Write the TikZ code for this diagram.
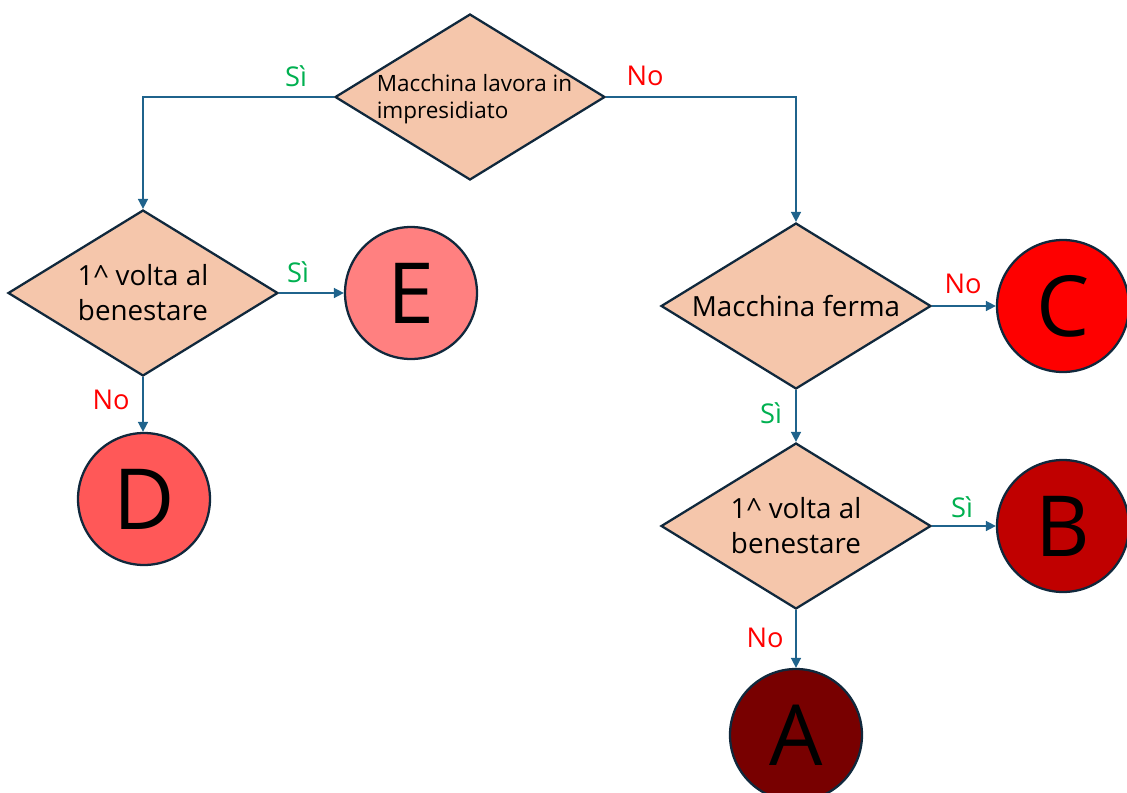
\documentclass[tikz,border=0pt]{standalone}
\usepackage{fontspec}
\setmainfont{Open Sans}
\usetikzlibrary{arrows.meta,positioning,shapes.geometric}
\definecolor{decfill}{RGB}{245,198,171}
\definecolor{edgeblue}{RGB}{31,99,140}
\definecolor{borderdark}{RGB}{16,40,60}
\definecolor{sigreen}{RGB}{0,176,80}
\definecolor{nored}{RGB}{255,0,0}
\definecolor{classE}{RGB}{255,128,128}
\definecolor{classD}{RGB}{255,88,88}
\definecolor{classC}{RGB}{254,0,0}
\definecolor{classB}{RGB}{192,0,0}
\definecolor{classA}{RGB}{120,0,0}
\tikzset{
  decision/.style={diamond, draw=borderdark, line width=1.3pt, fill=decfill,
                   minimum width=5.4cm, minimum height=3.32cm, inner sep=0pt},
  dtext/.style={align=center, font=\fontsize{15.8}{20}\selectfont},
  outcome/.style={circle, draw=borderdark, line width=1.3pt, minimum size=2.64cm,
                  inner sep=0pt, font=\fontsize{48}{48}\selectfont},
  flow/.style={-{Triangle[length=2mm,width=2mm]}, edgeblue, line width=0.9pt},
  silab/.style={text=sigreen, font=\fontsize{15.5}{18}\selectfont},
  nolab/.style={text=nored, font=\fontsize{15.5}{18}\selectfont},
}
\begin{document}
\begin{tikzpicture}[x=0.02cm, y=-0.02cm]
  \useasboundingbox (0,0) rectangle (1127,792);
  \clip (0,0) rectangle (1127,792);
  % decisions
  \node[decision, label={[align=left, font=\fontsize{12.8}{15.3}\selectfont,
        xshift=0.09cm, yshift=-0.05cm]center:
        Macchina lavora in\\impresidiato}] (presidio) at (470,97) {};
  \node[decision, label={[dtext]center:1\^{} volta al\\benestare}] (primaL) at (143,293) {};
  \node[decision, label={[dtext]center:Macchina ferma}] (ferma) at (796,306) {};
  \node[decision, label={[dtext]center:1\^{} volta al\\benestare}] (primaR) at (796,526) {};
  % outcomes
  \node[outcome, fill=classE] (E) at (411,293) {E};
  \node[outcome, fill=classD] (D) at (144,499) {D};
  \node[outcome, fill=classC] (C) at (1063,306) {C};
  \node[outcome, fill=classB] (B) at (1063,526) {B};
  \node[outcome, fill=classA] (A) at (796,735) {A};
  % connectors
  \draw[flow] (presidio.west) -| (primaL.north);
  \draw[flow] (presidio.east) -| (ferma.north);
  \draw[flow] (primaL.east) -- (E.west);
  \draw[flow] (primaL.south) -- (primaL.south |- D.north);
  \draw[flow] (ferma.east) -- (C.west);
  \draw[flow] (ferma.south) -- (primaR.north);
  \draw[flow] (primaR.east) -- (B.west);
  \draw[flow] (primaR.south) -- (A.north);
  % labels
  \node[silab] (si1) at (296,76) {Sì};
  \node[nolab] (no1) at (645,76) {No};
  \node[silab] (si2) at (298,272) {Sì};
  \node[nolab] (no2) at (111,400) {No};
  \node[nolab] (no3) at (963,284) {No};
  \node[silab] (si3) at (771,413) {Sì};
  \node[silab] (si4) at (962,507) {Sì};
  \node[nolab] (no4) at (765,638) {No};
\end{tikzpicture}
\end{document}
